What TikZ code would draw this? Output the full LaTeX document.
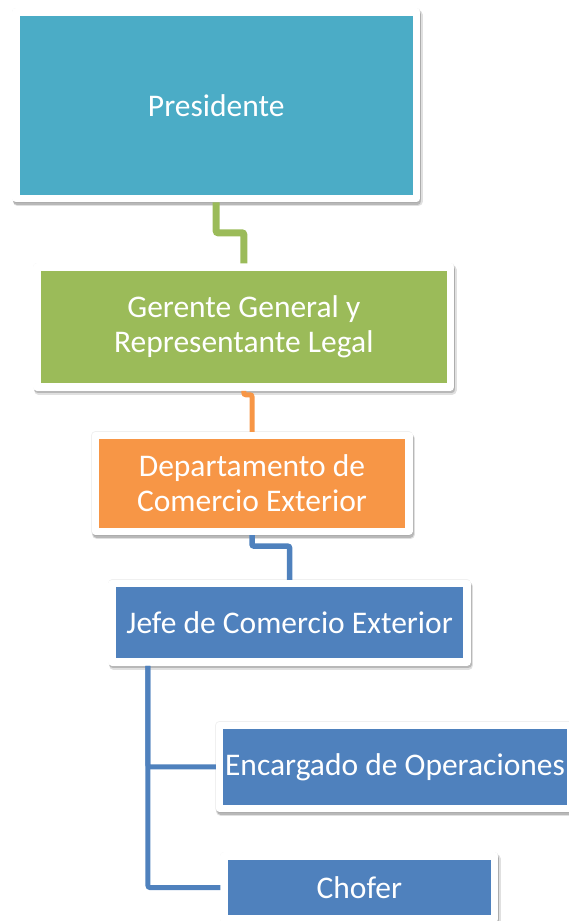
\documentclass[tikz,border=0pt]{standalone}
\usepackage{fontspec}
\setmainfont{Carlito}
\usetikzlibrary{calc,positioning,shadows}
\definecolor{presblue}{HTML}{4BACC6}
\definecolor{gergreen}{HTML}{9BBB59}
\definecolor{deporange}{HTML}{F79646}
\definecolor{jefeblue}{HTML}{4F81BD}
\tikzset{
	cargo/.style={draw=white, line width=7.5pt, line join=round, text=white, align=center, inner sep=0pt,
		font=\fontsize{31.5}{35}\selectfont,
		general shadow={fill=black, draw=black, line width=8.5pt, line join=round, opacity=.06, shadow xshift=0pt, shadow yshift=0pt},
		general shadow={fill=black, draw=black, line width=9.5pt, line join=round, opacity=.12, shadow xshift=1.5pt, shadow yshift=-3pt},
		general shadow={fill=black, draw=black, line width=7.5pt, line join=round, opacity=.18, shadow xshift=1pt, shadow yshift=-2.5pt}},
	enlace/.style={line width=#1, rounded corners=2pt},
}

\begin{document}
\begin{tikzpicture}[x=1pt, y=-1pt]
		%%%%% START %%%%%
		
		\useasboundingbox (0, 0) rectangle (569, 921);
		\clip (0, 0) rectangle (569, 921);
		
		\node[cargo, fill=presblue, minimum width=400.3pt, minimum height=186.7pt] (pres) at (216.2, 105.2) {Presidente};
		\node[cargo, fill=gergreen, minimum width=413.2pt, minimum height=120pt] (ger) at (243.8, 327) {Gerente General y\\Representante Legal};
		\node[cargo, fill=deporange, minimum width=313.5pt, minimum height=95.7pt] (dep) at (252, 483.5) {Departamento de\\Comercio Exterior};
		\node[cargo, fill=jefeblue, minimum width=354.8pt, minimum height=78.5pt] (jefe) at (289.6, 622.9) {Jefe de Comercio Exterior};
		
		\node[cargo, fill=jefeblue, minimum width=351pt, minimum height=82.8pt] (enc) at (395, 766.9) {Encargado de Operaciones};
		\node[cargo, fill=jefeblue, minimum width=270.3pt, minimum height=62.6pt] (chof) at (359.3, 887.5) {Chofer};
		
		\draw[enlace=7pt, color=gergreen] (pres.south) |- ($(pres.south)!.5!(ger.north)$) -| (ger.north);
		\draw[enlace=5pt, color=deporange] (ger.south) -- ++(0, 4) -| (dep.north);
		\draw[enlace=5.5pt, color=jefeblue] (dep.south) -- ++(0, 11) -| (jefe.north);
		
		\coordinate (tronco) at ([xshift=39.5pt]jefe.south west);
		\draw[enlace=5pt, color=jefeblue] (tronco) |- (enc.west);
		\draw[enlace=5pt, color=jefeblue] (tronco) |- (chof.west);
		
		%%%%% END %%%%%
	\end{tikzpicture}
\end{document}
